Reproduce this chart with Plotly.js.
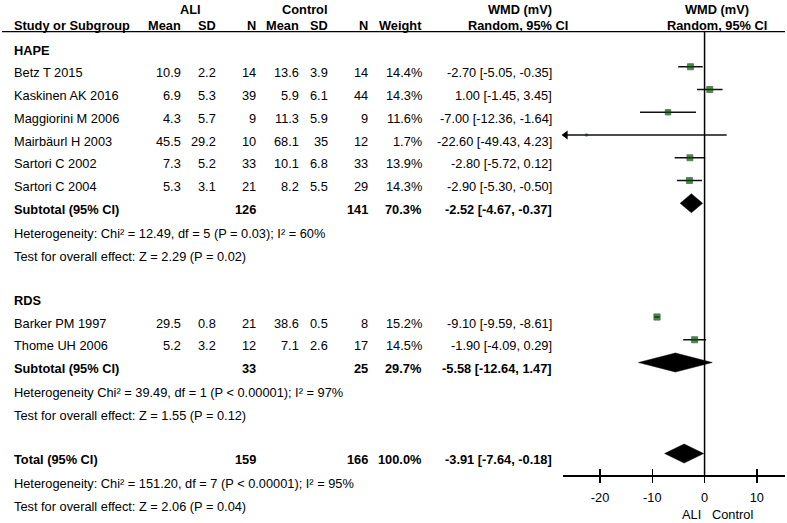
<!DOCTYPE html>
<html>
<head>
<meta charset="utf-8">
<script src="https://cdn.plot.ly/plotly-3.0.1.min.js"></script>
<style>html,body{margin:0;padding:0;background:#fff}#chart{width:787px;height:523px}</style>
</head>
<body>
<div id="chart"></div>
<script>
// ---------------- data ----------------
const studies   = ['Betz T 2015','Kaskinen AK 2016','Maggiorini M 2006','Mairbäurl H 2003','Sartori C 2002','Sartori C 2004','Barker PM 1997','Thome UH 2006'];
const groupOf   = [0,0,0,0,0,0,1,1];
const groupNames = ['HAPE','RDS'];
const aliMean   = [10.9, 6.9, 4.3, 45.5, 7.3, 5.3, 29.5, 5.2];
const aliSD     = [2.2, 5.3, 5.7, 29.2, 5.2, 3.1, 0.8, 3.2];
const aliN      = [14, 39, 9, 10, 33, 21, 21, 12];
const ctrlMean  = [13.6, 5.9, 11.3, 68.1, 10.1, 8.2, 38.6, 7.1];
const ctrlSD    = [3.9, 6.1, 5.9, 35, 6.8, 5.5, 0.5, 2.6];
const ctrlN     = [14, 44, 9, 12, 33, 29, 8, 17];
const weight    = [14.4, 14.3, 11.6, 1.7, 13.9, 14.3, 15.2, 14.5];
const wmd       = [-2.70, 1.00, -7.00, -22.60, -2.80, -2.90, -9.10, -1.90];
const ciLow     = [-5.05, -1.45, -12.36, -49.43, -5.72, -5.30, -9.59, -4.09];
const ciHigh    = [-0.35, 3.45, -1.64, 4.23, 0.12, -0.50, -8.61, 0.29];

const subLabels = ['Subtotal (95% CI)','Subtotal (95% CI)','Total (95% CI)'];
const subAliN   = [126, 33, 159];
const subCtrlN  = [141, 25, 166];
const subWeight = [70.3, 29.7, 100.0];
const subWmd    = [-2.52, -5.58, -3.91];
const subLow    = [-4.67, -12.64, -7.64];
const subHigh   = [-0.37, 1.47, -0.18];
const hetLabel  = ['Heterogeneity:', 'Heterogeneity', 'Heterogeneity:'];
const hetText   = ['Chi² = 12.49, df = 5 (P = 0.03); I² = 60%', 'Chi² = 39.49, df = 1 (P < 0.00001); I² = 97%', 'Chi² = 151.20, df = 7 (P < 0.00001); I² = 95%'];
const effText   = ['Z = 2.29 (P = 0.02)', 'Z = 1.55 (P = 0.12)', 'Z = 2.06 (P = 0.04)'];
const tickVals  = [-20, -10, 0, 10];

// ---------------- layout helpers ----------------
const W = 787, H = 523;
const FONT = 'Arial, "Liberation Sans", sans-serif';
const FS = 12.8;
const X_MIN = -27.1, X_MAX = 15.4;
const AXIS_Y = 475;
const rowY = r => 50 + 22.75 * r;
const MARK_OFF = -6;
const GREEN = '#035203';

// column right edges (px)
const col = {name: 13, aMean: 182, aSD: 217, aN: 257, cMean: 300, cSD: 329, cN: 369, w: 423, ci: 553};

const ann = [];
function txt(text, xpx, ypx, anchor, bold, size) {
  ann.push({text: bold ? '<b>' + text + '</b>' : text, xref: 'paper', yref: 'y', x: xpx / W, y: ypx,
    xanchor: anchor || 'left', yanchor: 'middle', showarrow: false, borderpad: 0,
    font: {family: FONT, size: size || FS, color: '#000'}});
}
const f1 = v => v.toFixed(1);
const f2 = v => v.toFixed(2);
const ciStr = (e, l, h) => f2(e) + ' [' + f2(l) + ', ' + f2(h) + ']';

// header
txt('ALI', 190, 9, 'center', true);
txt('Control', 305, 9, 'center', true);
txt('WMD (mV)', 520, 9, 'center', true);
txt('WMD (mV)', 717, 9, 'center', true);
txt('Study or Subgroup', col.name, 25, 'left', true);
txt('Mean', col.aMean, 25, 'right', true);
txt('SD', col.aSD, 25, 'right', true);
txt('N', col.aN, 25, 'right', true);
txt('Mean', col.cMean, 25, 'right', true);
txt('SD', col.cSD, 25, 'right', true);
txt('N', col.cN, 25, 'right', true);
txt('Weight', col.w, 25, 'right', true);
txt('Random, 95% CI', 518, 25, 'center', true);
txt('Random, 95% CI', 717, 25, 'center', true);

// rows
const studyRow = [];
const subRow = [];
let r = 0;
for (let g = 0; g < 3; g++) {
  if (g < 2) {
    txt(groupNames[g], col.name, rowY(r), 'left', true);
    r++;
    for (let i = 0; i < studies.length; i++) {
      if (groupOf[i] !== g) continue;
      studyRow[i] = r;
      const y = rowY(r);
      txt(studies[i], col.name, y);
      txt(f1(aliMean[i]), col.aMean, y, 'right');
      txt(f1(aliSD[i]), col.aSD, y, 'right');
      txt(String(aliN[i]), col.aN, y, 'right');
      txt(f1(ctrlMean[i]), col.cMean, y, 'right');
      txt(ctrlSD[i] % 1 === 0 ? String(ctrlSD[i]) : f1(ctrlSD[i]), col.cSD, y, 'right');
      txt(String(ctrlN[i]), col.cN, y, 'right');
      txt(f1(weight[i]) + '%', col.w, y, 'right');
      txt(ciStr(wmd[i], ciLow[i], ciHigh[i]), col.ci, y, 'right');
      r++;
    }
  }
  subRow[g] = r;
  const y = rowY(r);
  txt(subLabels[g], col.name, y, 'left', true);
  txt(String(subAliN[g]), col.aN, y, 'right', true);
  txt(String(subCtrlN[g]), col.cN, y, 'right', true);
  txt(f1(subWeight[g]) + '%', col.w, y, 'right', true);
  txt(ciStr(subWmd[g], subLow[g], subHigh[g]), col.ci, y, 'right', true);
  r++;
  txt(hetLabel[g] + ' ' + hetText[g], col.name, rowY(r) + 1.5);
  r++;
  txt('Test for overall effect: ' + effText[g], col.name, rowY(r) + 1.5);
  r++;
  r++; // blank line between blocks
}
txt('ALI', 702, 514, 'right');
txt('Control', 711, 514, 'left');

// ---------------- traces ----------------
const traces = [];
// CI lines
const lx = [], ly = [];
const arrowX = [], arrowY = [];
for (let i = 0; i < studies.length; i++) {
  const y = rowY(studyRow[i]) + MARK_OFF;
  lx.push(ciLow[i], ciHigh[i], null);
  ly.push(y, y, null);
  if (ciLow[i] < X_MIN) { arrowX.push(X_MIN + 0.5); arrowY.push(y); }
}
traces.push({type: 'scatter', mode: 'lines', x: lx, y: ly, line: {color: '#111', width: 1.5}, hoverinfo: 'skip'});
traces.push({type: 'scatter', mode: 'markers', x: arrowX, y: arrowY, cliponaxis: false,
  marker: {symbol: 'triangle-left', size: 8, color: '#000'}, hoverinfo: 'skip'});
// squares
traces.push({type: 'scatter', mode: 'markers', x: wmd, y: studyRow.map(rr => rowY(rr) + MARK_OFF),
  marker: {symbol: 'square', color: GREEN, size: weight.map(w => 1.6 * Math.sqrt(w)), line: {width: 0.8, color: '#013a01'}}, hoverinfo: 'skip'});
// diamonds
for (let g = 0; g < 3; g++) {
  const y = rowY(subRow[g]) + MARK_OFF;
  traces.push({type: 'scatter', mode: 'lines', fill: 'toself', fillcolor: '#000',
    x: [subLow[g], subWmd[g], subHigh[g], subWmd[g], subLow[g]],
    y: [y, y - 9.5, y, y + 9.5, y], line: {color: '#000', width: 0.5}, hoverinfo: 'skip'});
}
// helper trace for the crossing-tick axis
traces.push({type: 'scatter', mode: 'markers', x: [], y: [], xaxis: 'x2', yaxis: 'y', hoverinfo: 'skip'});

const axPos = 1 - AXIS_Y / H;
const layout = {
  width: W, height: H,
  margin: {l: 0, r: 0, t: 0, b: 0},
  paper_bgcolor: '#fff', plot_bgcolor: 'rgba(0,0,0,0)',
  showlegend: false,
  font: {family: FONT, size: FS, color: '#000'},
  xaxis: {domain: [563 / W, 785 / W], range: [X_MIN, X_MAX], anchor: 'free', position: axPos,
    showline: true, linecolor: '#000', linewidth: 1.5, ticks: 'outside', ticklen: 6, tickwidth: 1.5, tickcolor: '#000',
    tickmode: 'array', tickvals: tickVals, ticktext: tickVals.map(String), showgrid: false, zeroline: false,
    tickfont: {family: FONT, size: FS, color: '#000'}, ticklabelstandoff: 4, fixedrange: true},
  xaxis2: {domain: [563 / W, 785 / W], range: [X_MIN, X_MAX], overlaying: 'x', anchor: 'free', position: axPos,
    showline: false, ticks: 'inside', ticklen: 6, tickwidth: 1.5, tickcolor: '#000',
    tickmode: 'array', tickvals: tickVals, showticklabels: false, showgrid: false, zeroline: false, fixedrange: true},
  yaxis: {domain: [0, 1], range: [H, 0], autorange: false, visible: false, fixedrange: true},
  shapes: [
    {type: 'line', xref: 'paper', yref: 'y', x0: 2 / W, x1: 785 / W, y0: 31.7, y1: 31.7, line: {color: '#000', width: 1.3}},
    {type: 'line', xref: 'x', yref: 'y', x0: 0, x1: 0, y0: 31.7, y1: AXIS_Y, line: {color: '#000', width: 1.5}}
  ],
  annotations: ann
};
Plotly.newPlot('chart', traces, layout, {displayModeBar: false, staticPlot: true});
</script>
</body>
</html>
